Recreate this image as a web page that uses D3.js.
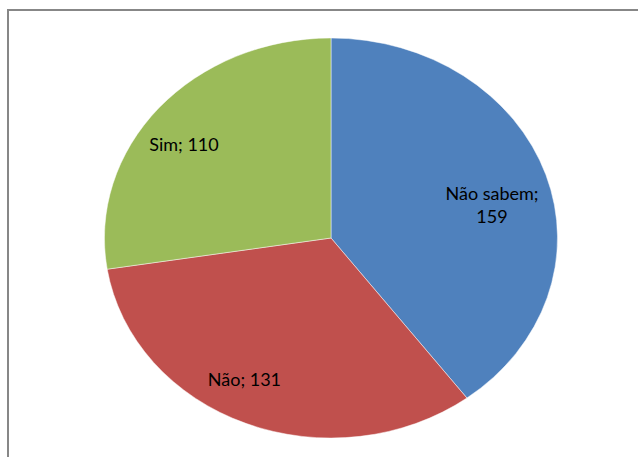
<!DOCTYPE html>
<html>
<head>
<meta charset="utf-8">
<script src="https://cdn.jsdelivr.net/npm/d3@7"></script>
<style>
  html, body { margin: 0; padding: 0; background: #fff; }
  svg { display: block; }
</style>
</head>
<body>
<svg id="chart" width="638" height="457"></svg>
<script>
// Survey answers
const categories = ["Não sabem", "Não", "Sim"];
const values = [159, 131, 110];
const colors = ["#4F81BD", "#C0504D", "#9BBB59"];

const W = 638, H = 457;
const cx = 331, cy = 238;   // pie centre
const rx = 226.5, ry = 200; // elliptical radii (pie is stretched horizontally)

const svg = d3.select("#chart");

// Chart area frame (continues past the right and bottom edges)
svg.append("rect")
  .attr("x", 8).attr("y", 10)
  .attr("width", 720).attr("height", 520)
  .attr("fill", "none")
  .attr("stroke", "#878787")
  .attr("stroke-width", 2);

const pie = d3.pie().sort(null).value(d => d.value);
const slices = pie(categories.map((c, i) => ({ name: c, value: values[i], color: colors[i] })));

// Draw on a unit circle, then scale to the ellipse
const arc = d3.arc().innerRadius(0).outerRadius(1);

const g = svg.append("g")
  .attr("transform", `translate(${cx},${cy}) scale(${rx},${ry})`);

g.selectAll("path")
  .data(slices)
  .join("path")
  .attr("d", arc)
  .attr("fill", d => d.data.color)
  .attr("stroke", "rgba(255,255,255,0.6)")
  .attr("stroke-width", 0.8)
  .attr("vector-effect", "non-scaling-stroke");

// Label placement: radius fraction and angle nudge (degrees) per slice
const labelRadius = [0.73, 0.80, 0.80];
const labelAngleShift = [5.3, 6.5, -4.7];
const labelLines = d => d.index === 0
  ? [d.data.name + ";", String(d.data.value)]
  : [d.data.name + "; " + d.data.value];

const labels = svg.append("g")
  .attr("font-family", "Lato, 'Open Sans', sans-serif")
  .attr("font-size", 18)
  .attr("fill", "#000")
  .attr("text-anchor", "middle");

slices.forEach((d, i) => {
  const a = (d.startAngle + d.endAngle) / 2 + labelAngleShift[i] * Math.PI / 180;
  const x = cx + rx * labelRadius[i] * Math.sin(a);
  const y = cy - ry * labelRadius[i] * Math.cos(a);
  const lines = labelLines(d);
  const lh = 23;
  const t = labels.append("text")
    .attr("x", x)
    .attr("y", y - (lines.length - 1) * lh / 2)
    .attr("dominant-baseline", "central");
  lines.forEach((ln, k) => {
    t.append("tspan")
      .attr("x", x)
      .attr("dy", k === 0 ? 0 : lh)
      .text(ln);
  });
});
</script>
</body>
</html>
